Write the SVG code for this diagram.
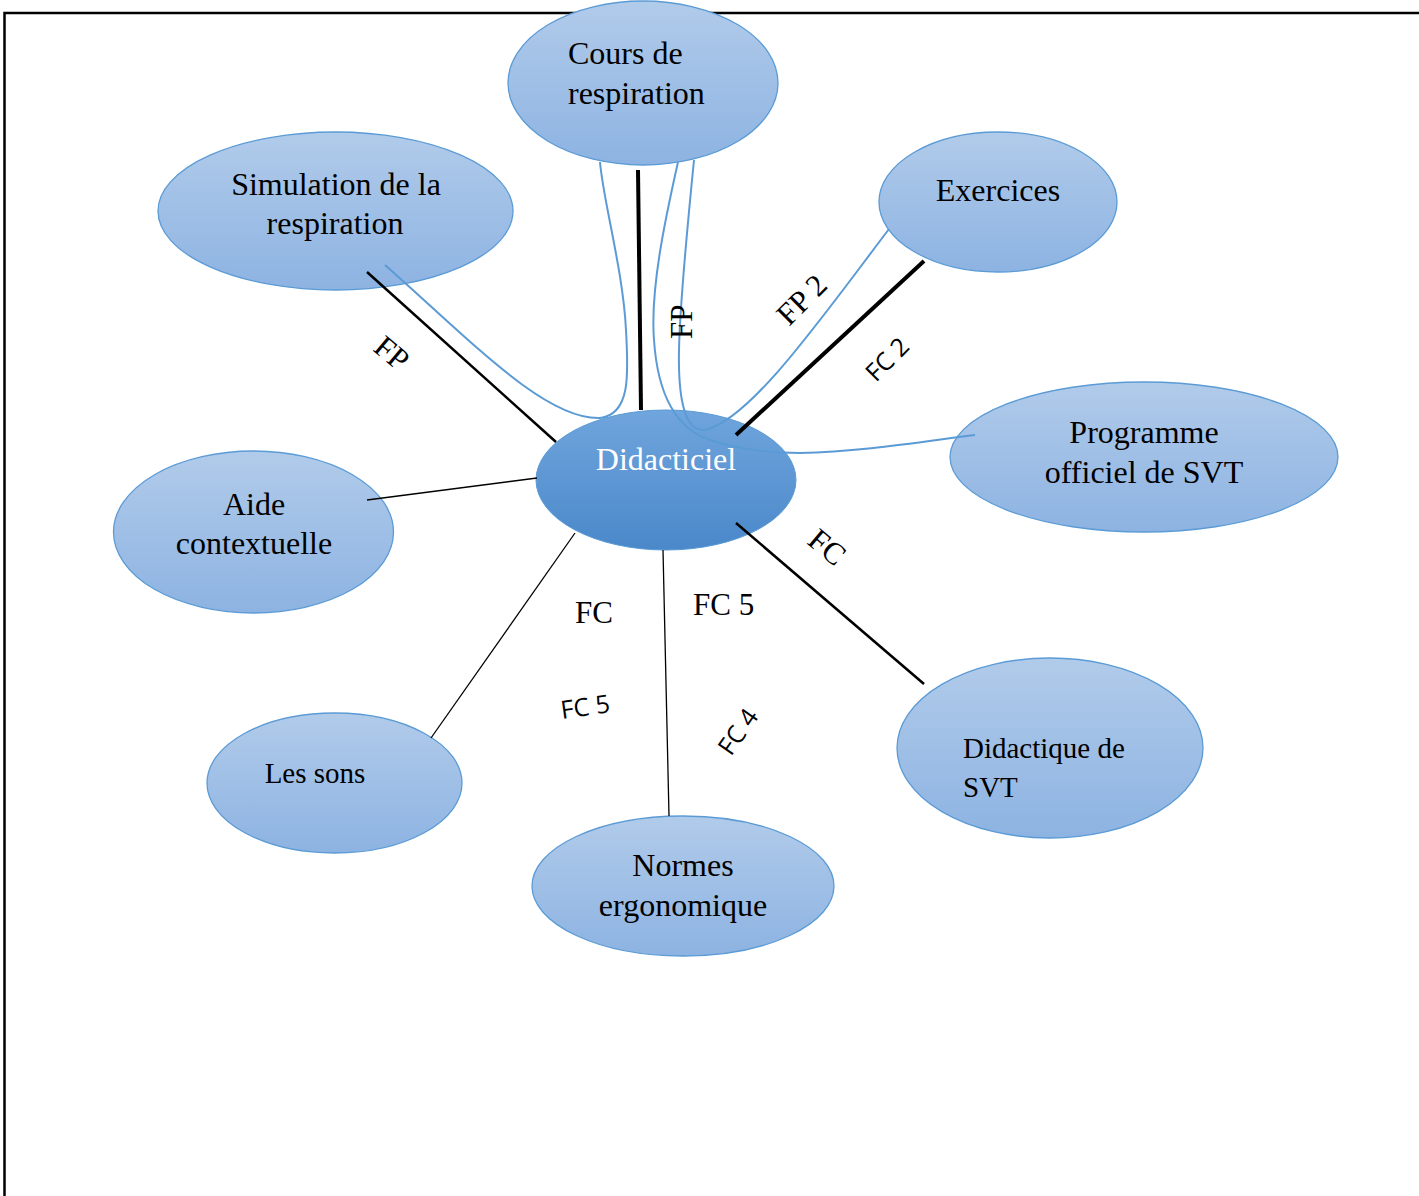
<svg xmlns="http://www.w3.org/2000/svg" width="1419" height="1196" viewBox="0 0 1419 1196">
<defs>
<linearGradient id="gLight" x1="0" y1="0" x2="0" y2="1">
<stop offset="0" stop-color="#b1cbea"/>
<stop offset="1" stop-color="#8db3e2"/>
</linearGradient>
<linearGradient id="gDark" x1="0" y1="0" x2="0" y2="1">
<stop offset="0" stop-color="#70a5dd"/>
<stop offset="1" stop-color="#4a88ca"/>
</linearGradient>
</defs>
<style>
.n{fill:url(#gLight);stroke:#5b9bd5;stroke-width:1.3}
.c{fill:url(#gDark);stroke:#5b9bd5;stroke-width:1}
.t{font-family:"Liberation Serif","Times New Roman",serif;font-size:32px;fill:#000}
.tc{text-anchor:middle}
.w{fill:#fff}
.lbl{font-family:"Liberation Serif","Times New Roman",serif;font-size:31px;fill:#000}
.lbs{font-family:"Open Sans","Liberation Sans",sans-serif;font-size:25px;fill:#000}
.k{stroke:#000;fill:none}
.b{stroke:#5b9bd5;fill:none;stroke-width:2}
</style>
<rect width="1419" height="1196" fill="#fff"/>
<g id="frame" stroke="#000" stroke-width="2.5" fill="none">
<path d="M1419,13 L4.5,13 L4.5,1196"/>
</g>
<g id="node-cours"><ellipse class="n" cx="643" cy="83" rx="135" ry="82"/>
<text class="t" x="568" y="64">Cours de</text><text class="t" x="568" y="104">respiration</text></g>
<g id="node-simulation"><ellipse class="n" cx="335.5" cy="211" rx="177.5" ry="79"/>
<text class="t tc" x="336" y="195">Simulation de la</text><text class="t tc" x="335" y="234">respiration</text></g>
<g id="node-exercices"><ellipse class="n" cx="998" cy="202" rx="119" ry="70"/>
<text class="t tc" x="998" y="201">Exercices</text></g>
<g id="node-programme"><ellipse class="n" cx="1144" cy="457" rx="194" ry="75"/>
<text class="t tc" x="1144" y="443">Programme</text><text class="t tc" x="1144" y="483">officiel de SVT</text></g>
<g id="node-didacticiel"><ellipse class="c" cx="666" cy="480" rx="130" ry="70"/>
<text class="t tc w" x="666" y="470">Didacticiel</text></g>
<g id="node-aide"><ellipse class="n" cx="253.5" cy="532" rx="140" ry="81"/>
<text class="t tc" x="254" y="515">Aide</text><text class="t tc" x="254" y="554">contextuelle</text></g>
<g id="node-sons"><ellipse class="n" cx="334.5" cy="783" rx="127.5" ry="70"/>
<text class="t tc" x="315" y="783" style="font-size:29px">Les sons</text></g>
<g id="node-normes"><ellipse class="n" cx="683" cy="886" rx="151" ry="70"/>
<text class="t tc" x="683" y="876">Normes</text><text class="t tc" x="683" y="916">ergonomique</text></g>
<g id="node-didactique"><ellipse class="n" cx="1050" cy="748" rx="153" ry="90"/>
<text class="t" x="963" y="758" style="font-size:29px">Didactique de</text><text class="t" x="963" y="797" style="font-size:29px">SVT</text></g>
<g id="connectors">
<line class="k" x1="367" y1="272" x2="556" y2="442" stroke-width="2.5"/>
<line class="k" x1="638" y1="170" x2="641" y2="410" stroke-width="4"/>
<line class="k" x1="924" y1="261" x2="736" y2="435" stroke-width="4"/>
<line class="k" x1="367" y1="500" x2="537" y2="478" stroke-width="1.5"/>
<line class="k" x1="431" y1="738" x2="575" y2="533" stroke-width="1.3"/>
<line class="k" x1="669" y1="816" x2="663" y2="550" stroke-width="1.3"/>
<line class="k" x1="924" y1="684" x2="736" y2="523" stroke-width="2.5"/>
<path class="b" d="M385,265 C470,340 545,420 600,418 C632,414 628,370 626,330 C623,270 603,200 600,162"/>
<path class="b" d="M678,162 C665,220 650,290 654,340 C658,400 680,430 710,440 C740,450 770,453 800,453 C860,452 920,442 975,435"/>
<path class="b" d="M694,160 C688,220 680,300 679,350 C678,400 685,432 705,430 C750,420 820,320 889,229"/>
</g>
<g id="labels">
<text class="lbl" transform="translate(372,350) rotate(40)">FP</text>
<text class="lbl" transform="translate(692,339) rotate(-90)">FP</text>
<text class="lbl" transform="translate(789,327) rotate(-45)">FP 2</text>
<text class="lbs" transform="translate(876,383) rotate(-45)">FC 2</text>
<text class="lbl" transform="translate(806,543) rotate(40)">FC</text>
<text class="lbl" x="575" y="623">FC</text>
<text class="lbl" x="693" y="615">FC 5</text>
<text class="lbs" transform="translate(562,719) rotate(-8)">FC 5</text>
<text class="lbs" transform="translate(731,757) rotate(-55)">FC 4</text>
</g>
</svg>
